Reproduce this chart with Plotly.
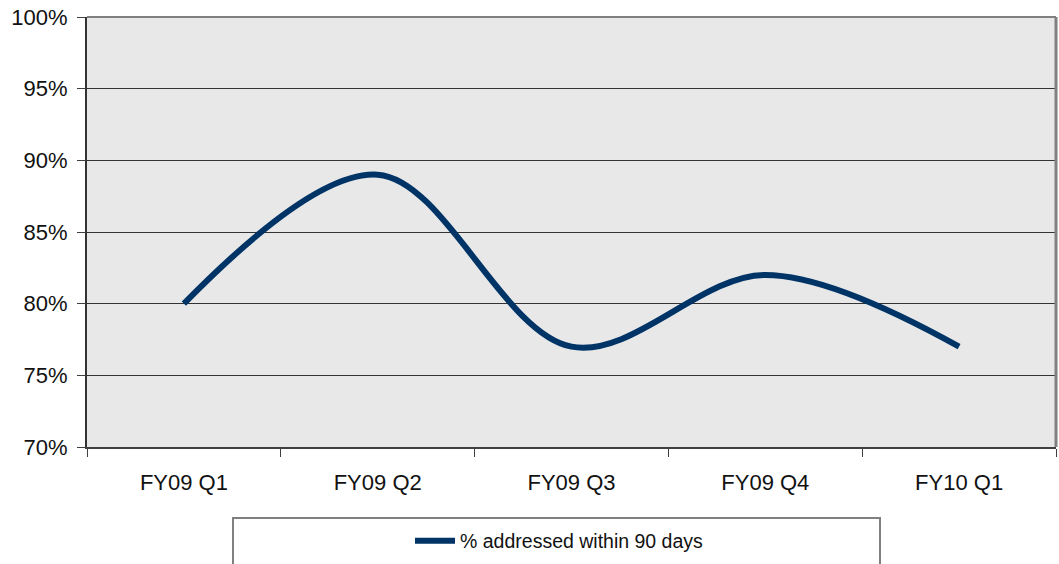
import plotly.graph_objects as go

categories = ["FY09 Q1", "FY09 Q2", "FY09 Q3", "FY09 Q4", "FY10 Q1"]
values = [80, 89, 77, 82, 77]
series_name = "% addressed within 90 days"
y_ticks = [70, 75, 80, 85, 90, 95, 100]

fig = go.Figure()
fig.add_trace(go.Scatter(
    x=categories, y=values, mode="lines", name=series_name,
    line=dict(color="#003366", width=6, shape="spline", smoothing=1.0),
))

W, H = 1059, 564
# target plot area in page pixels: x 87..1056, y 17..447
L, T = 87, 17
R = W - 1056
B = H - 447
pw, ph = W - L - R, H - T - B

def px_x(x):
    return (x - L) / pw

def px_y(y):
    return (H - B - y) / ph

fig.update_layout(
    width=W, height=H,
    margin=dict(l=L, r=R, t=T, b=B),
    paper_bgcolor="white",
    plot_bgcolor="#E8E8E8",
    font=dict(family="Liberation Sans, Arial, sans-serif", color="#111111", size=22),
    showlegend=True,
    legend=dict(
        x=px_x(410), y=px_y(541), xanchor="left", yanchor="middle",
        bgcolor="rgba(0,0,0,0)", borderwidth=0,
        font=dict(size=19.5), itemwidth=40,
    ),
    xaxis=dict(
        type="category", range=[-0.5, 4.5],
        showline=True, linecolor="#404040", linewidth=2,
        ticks="outside", tickson="boundaries", ticklen=8, tickcolor="#404040",
        showgrid=False, mirror=False, zeroline=False,
        ticklabelstandoff=15,
    ),
    yaxis=dict(
        range=[70, 100], tickvals=y_ticks, ticktext=[f"{v}%" for v in y_ticks],
        showline=True, linecolor="#333333", linewidth=2,
        ticks="outside", ticklen=8, tickcolor="#404040",
        showgrid=True, gridcolor="#333333", gridwidth=1,
        zeroline=False, ticklabelstandoff=5, ticklabeloverflow="allow",
    ),
    shapes=[
        dict(type="line", xref="paper", yref="paper", x0=0, x1=1, y0=1, y1=1,
             line=dict(color="#808080", width=2)),
        dict(type="line", xref="paper", yref="paper", x0=1, x1=1, y0=0, y1=1,
             line=dict(color="#808080", width=3)),
        dict(type="rect", xref="paper", yref="paper",
             x0=px_x(233), x1=px_x(880), y0=px_y(590), y1=px_y(518),
             line=dict(color="#808080", width=2), fillcolor="rgba(0,0,0,0)"),
    ],
)

fig.write_html(
    "out.html",
    config={"displayModeBar": False},
    post_script="document.body.style.margin='0';document.body.style.overflow='hidden';",
)
